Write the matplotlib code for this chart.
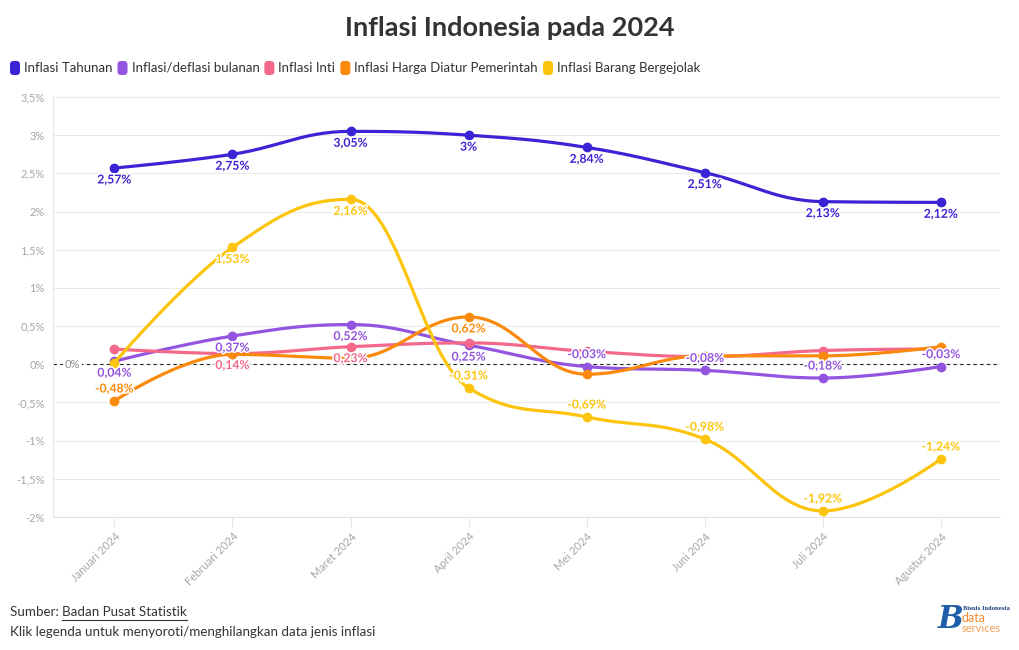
import numpy as np
import matplotlib.pyplot as plt
import matplotlib.patheffects as pe
from matplotlib.patches import FancyBboxPatch
from matplotlib.lines import Line2D

plt.rcParams['font.family'] = ['Lato', 'DejaVu Sans']

# --- data ---
bulan = ['Januari 2024', 'Februari 2024', 'Maret 2024', 'April 2024',
         'Mei 2024', 'Juni 2024', 'Juli 2024', 'Agustus 2024']
tahunan = [2.57, 2.75, 3.05, 3.00, 2.84, 2.51, 2.13, 2.12]
bulanan = [0.04, 0.37, 0.52, 0.25, -0.03, -0.08, -0.18, -0.03]
inti = [0.20, 0.14, 0.23, 0.28, 0.17, 0.10, 0.18, 0.20]
diatur = [-0.48, 0.13, 0.08, 0.62, -0.13, 0.11, 0.11, 0.23]
bergejolak = [0.02, 1.53, 2.16, -0.31, -0.69, -0.98, -1.92, -1.24]

series_names = ['Inflasi Tahunan', 'Inflasi/deflasi bulanan', 'Inflasi Inti',
                'Inflasi Harga Diatur Pemerintah', 'Inflasi Barang Bergejolak']
series_vals = [tahunan, bulanan, inti, diatur, bergejolak]
colors = ['#3b23d6', '#9355e0', '#f4698b', '#fb8a0c', '#fcc40c']
# which points keep a visible data label
shown = [range(8), range(8), [1, 2], [0, 3], [1, 2, 3, 4, 5, 6, 7]]

W, H = 1020, 650


def spline(xs, ys, smoothing=1.5, n=30):
    # Highcharts-style spline (bezier with clamped control points)
    d = smoothing + 1
    ctrl = []
    for i in range(len(xs)):
        x, y = xs[i], ys[i]
        if i == 0 or i == len(xs) - 1:
            ctrl.append((x, y, x, y))
            continue
        lx, ly = xs[i - 1], ys[i - 1]
        nx, ny = xs[i + 1], ys[i + 1]
        lcx = (smoothing * x + lx) / d
        lcy = (smoothing * y + ly) / d
        rcx = (smoothing * x + nx) / d
        rcy = (smoothing * y + ny) / d
        corr = (rcy - lcy) * (rcx - x) / (rcx - lcx) + y - rcy
        lcy += corr
        rcy += corr
        if lcy > ly and lcy > y:
            lcy = max(ly, y); rcy = 2 * y - lcy
        elif lcy < ly and lcy < y:
            lcy = min(ly, y); rcy = 2 * y - lcy
        if rcy > ny and rcy > y:
            rcy = max(ny, y); lcy = 2 * y - rcy
        elif rcy < ny and rcy < y:
            rcy = min(ny, y); lcy = 2 * y - rcy
        ctrl.append((lcx, lcy, rcx, rcy))
    t = np.linspace(0, 1, n)[:, None]
    out = []
    for i in range(1, len(xs)):
        p0 = np.array([xs[i - 1], ys[i - 1]])
        p1 = np.array([ctrl[i - 1][2], ctrl[i - 1][3]])
        p2 = np.array([ctrl[i][0], ctrl[i][1]])
        p3 = np.array([xs[i], ys[i]])
        seg = ((1 - t) ** 3) * p0 + 3 * ((1 - t) ** 2) * t * p1 + 3 * (1 - t) * t ** 2 * p2 + t ** 3 * p3
        out.append(seg if i == 1 else seg[1:])
    out = np.vstack(out)
    return out[:, 0], out[:, 1]


def fmt(v):
    return f'{v:g}'.replace('.', ',') + '%'


fig = plt.figure(figsize=(W / 100, H / 100), dpi=100)
ax = fig.add_axes([53 / W, 1 - 517 / H, (1000 - 53) / W, (517 - 97) / H])

x = np.arange(len(bulan))
for k, (vals, col) in enumerate(zip(series_vals, colors)):
    sx, sy = spline(list(x), vals)
    ax.plot(sx, sy, color=col, lw=2.3, zorder=3 + k, solid_capstyle='round')
    ax.plot(x, vals, 'o', color=col, ms=6, zorder=3 + k)

for k, (vals, col) in enumerate(zip(series_vals, colors)):
    for i in shown[k]:
        v = vals[i]
        off = -8.6 if v >= 0 else 8.6
        ax.annotate(fmt(v), (x[i], v), xytext=(0, off), textcoords='offset points',
                    ha='center', va='center', fontsize=8.8, fontweight='bold', color=col,
                    zorder=20,
                    path_effects=[pe.withStroke(linewidth=2.2, foreground='white')])

# zero plot line
ax.axhline(0, color='#222222', lw=0.8, ls=(0, (3, 3)), zorder=2)
ax.text(-0.42, 0, '0%', ha='left', va='center', fontsize=8, color='#888888',
        bbox=dict(facecolor='white', edgecolor='none', pad=1), zorder=2.5)

ax.set_xlim(-0.52, 7.5)
ax.set_ylim(-2, 3.5)
ax.set_yticks(np.arange(-2, 3.51, 0.5))
ax.set_yticklabels([fmt(round(v, 1)) for v in np.arange(-2, 3.51, 0.5)])
ax.set_xticks(x)
ax.set_xticklabels(bulan, rotation=45, ha='right', va='top', rotation_mode='anchor')
ax.tick_params(axis='y', length=0, pad=6, labelsize=8, labelcolor='#a6a6a6')
ax.tick_params(axis='x', length=7, width=0.7, color='#e6e6e6', pad=3,
               labelsize=8, labelcolor='#a6a6a6')
ax.grid(axis='y', color='#e9e9e9', lw=0.75, zorder=0)
ax.set_axisbelow(True)
for s in ['top', 'right']:
    ax.spines[s].set_visible(False)
ax.spines['left'].set_color('#e6e6e6')
ax.spines['bottom'].set_color('#e0e0e0')
ax.spines['left'].set_linewidth(0.75)
ax.spines['bottom'].set_linewidth(0.75)

# title
fig.text(0.5, 1 - 28 / H, 'Inflasi Indonesia pada 2024', ha='center', va='center',
         fontsize=19.5, fontweight='bold', color='#333333')

# legend, laid out by hand
fig.canvas.draw()
renderer = fig.canvas.get_renderer()
px = 10
ly = 68
for name, col in zip(series_names, colors):
    box = FancyBboxPatch((px / W, 1 - (ly + 7) / H), 10 / W, 14 / H,
                         boxstyle='round,pad=0,rounding_size=0.0035',
                         transform=fig.transFigure, facecolor=col, edgecolor='none',
                         mutation_aspect=W / H)
    fig.patches.append(box)
    t = fig.text((px + 14) / W, 1 - ly / H, name, ha='left', va='center',
                 fontsize=9.5, color='#333333')
    wpx = t.get_window_extent(renderer).width
    px = px + 14 + wpx + 5

# footer
t1 = fig.text(10 / W, 1 - 612 / H, 'Sumber: ', ha='left', va='center', fontsize=9.6, color='#333333')
w1 = t1.get_window_extent(renderer).width
t2 = fig.text((10 + w1) / W, 1 - 612 / H, 'Badan Pusat Statistik', ha='left', va='center',
              fontsize=9.6, color='#333333')
w2 = t2.get_window_extent(renderer).width
fig.lines.append(Line2D([(10 + w1) / W, (10 + w1 + w2) / W], [1 - 620 / H, 1 - 620 / H],
                        transform=fig.transFigure, color='#333333', lw=0.8))
fig.text(10 / W, 1 - 632 / H, 'Klik legenda untuk menyoroti/menghilangkan data jenis inflasi',
         ha='left', va='center', fontsize=9.6, color='#333333')

# logo
fig.text(951 / W, 1 - 619 / H, 'B', ha='center', va='center', fontsize=22, fontweight='bold',
         fontstyle='italic', family='DejaVu Serif', color='#1f5ea8')
fig.text(963 / W, 1 - 609 / H, 'Bisnis Indonesia', ha='left', va='center', fontsize=3.6,
         fontweight='bold', family='DejaVu Serif', color='#1f3f78')
fig.text(962 / W, 1 - 618 / H, 'data', ha='left', va='center', fontsize=9, color='#f08a2b')
fig.text(962 / W, 1 - 628 / H, 'services', ha='left', va='center', fontsize=8, color='#f4a05a')

fig.savefig('out.png', dpi=100)
